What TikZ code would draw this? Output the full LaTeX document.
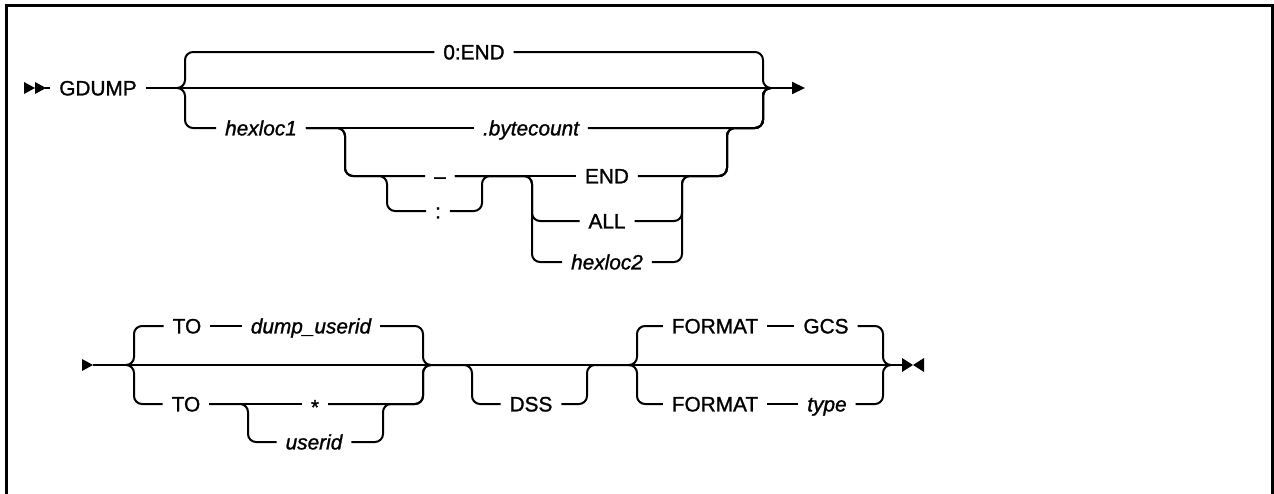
\documentclass[tikz,border=0pt]{standalone}
\usepackage{fontspec}
\newfontfamily\railfont{Liberation Sans}[FakeBold=1.2]
\usepackage{tikz}
\usetikzlibrary{arrows.meta}
\tikzset{
  % Keyword on a rail
  kw/.style={inner xsep=4.3pt,inner ysep=0pt,
    text height=7.4pt,text depth=0pt,
    font=\railfont\fontsize{10.4}{12}\selectfont},
  % Variable on a rail (italic)
  var/.style={kw,font=\railfont\fontsize{10.4}{12}\selectfont\itshape},
  % Rails
  rail/.style={line width=1pt,rounded corners=4pt},
  railarr/.style={line width=1pt,-{Triangle[length=6.5pt,width=6pt]}},
  frame/.style={line width=1.5pt},
}

\begin{document}
\begin{tikzpicture}[x=0.5pt,y=-0.5pt]
  \clip (0,0) rectangle (1274,493);
  \draw[frame] (6,510) -- (6,5.5) -- (1272,5.5) -- (1272,510);

  % First line: GDUMP and the address range
  \node[kw] (gdump) at (98,88) {GDUMP};
  \node[kw] (zeroend) at (474,52) {0:END};
  \node[var] (hexA) at (261,128) {hexloc1};
  \node[var] (bytes) at (531,128) {.bytecount};
  \node[kw] (dash) at (440,176) {\textendash};
  \node[kw] (colon) at (438,211) {:};
  \node[kw] (endkw) at (607,176) {END};
  \node[kw] (allkw) at (607,221) {ALL};
  \node[var] (hexB) at (607,262) {hexloc2};

  \coordinate (start1) at (45,88);
  \coordinate (lb1tip) at (177,88);
  \coordinate (lb1) at (185,88);
  \coordinate (rb1) at (763,88);
  \coordinate (rb1tip) at (771,88);
  \coordinate (end1) at (805,88);
  \coordinate (sp1) at (345,176);
  \coordinate (cl) at (387,211);
  \coordinate (mg2) at (482,176);
  \coordinate (sp3) at (532,176);
  \coordinate (alc) at (532,221);
  \coordinate (hxc) at (532,262);
  \coordinate (mg3) at (682,176);
  \coordinate (mg4) at (727,128);

  % start marks
  \fill (24,82) -- (35,88) -- (24,94) -- cycle;
  \fill (35,82) -- (46,88) -- (35,94) -- cycle;
  \draw[rail] (start1) -- (gdump.west);
  \draw[railarr] (gdump.east) -- (end1);

  % outer choice
  \draw[rail] (lb1tip) -- (lb1) |- (zeroend.west);
  \draw[rail] (lb1tip) -- (lb1) |- (hexA.west);
  \draw[rail] (zeroend.east) -| (rb1) -- (rb1tip);
  \draw[rail] (hexA.east) -- (bytes.west);
  \draw[rail] (bytes.east) -| (rb1) -- (rb1tip);

  % range end
  \draw[rail] (hexA.east) -| (sp1) -- (dash.west);
  \draw[rail] (hexA.east) -| (sp1) -| (cl) -- (colon.west);
  \draw[rail] (dash.east) -- (endkw.west);
  \draw[rail] (endkw.east) -| (mg4) -| (rb1) -- (rb1tip);
  \draw[rail] (colon.east) -| (mg2) -- (sp3);
  \draw[rail] (dash.east) -| (alc) -- (allkw.west);
  \draw[rail] (dash.east) -| (hxc) -- (hexB.west);
  \draw[rail] (allkw.east) -| (mg3) -| (mg4) -| (rb1) -- (rb1tip);
  \draw[rail] (hexB.east) -| (mg3) -| (mg4) -| (rb1) -- (rb1tip);

  % Second line: TO, DSS, FORMAT
  \node[kw] (toA) at (187,326) {TO};
  \node[var] (uidA) at (311,326) {dump\_userid};
  \node[kw] (toB) at (186,404) {TO};
  \node[kw] (star) at (315,404) {\raisebox{-1.5pt}{*}};
  \node[var] (uidB) at (314,442) {userid};
  \node[kw] (dss) at (531,404) {DSS};
  \node[kw] (fmtA) at (715,326) {FORMAT};
  \node[kw] (gcs) at (826,326) {GCS};
  \node[kw] (fmtB) at (715,404) {FORMAT};
  \node[var] (typev) at (827,404) {type};

  \coordinate (start2) at (93,365);
  \coordinate (lb2tip) at (126,365);
  \coordinate (lb2) at (134,365);
  \coordinate (rb2) at (423,365);
  \coordinate (rb2tip) at (430,365);
  \coordinate (sc) at (248,442);
  \coordinate (mc) at (383,404);
  \coordinate (dc) at (472,404);
  \coordinate (dm) at (587,365);
  \coordinate (lb3tip) at (630,365);
  \coordinate (lb3) at (637,365);
  \coordinate (rb3) at (883,365);
  \coordinate (rb3tip) at (890,365);
  \coordinate (end2) at (903,365);

  \fill (82,359) -- (93,365) -- (82,371) -- cycle;
  \draw[rail] (start2) -- (end2);
  % end marks
  \fill (902,358) -- (913,365) -- (902,372) -- cycle;
  \fill (924,358) -- (913,365) -- (924,372) -- cycle;

  % TO target
  \draw[rail] (lb2tip) -- (lb2) |- (toA.west);
  \draw[rail] (lb2tip) -- (lb2) |- (toB.west);
  \draw[rail] (toA.east) -- (uidA.west);
  \draw[rail] (uidA.east) -| (rb2) -- (rb2tip);
  \draw[rail] (toB.east) -- (star.west);
  \draw[rail] (star.east) -| (rb2) -- (rb2tip);
  \draw[rail] (toB.east) -| (sc) -- (uidB.west);
  \draw[rail] (uidB.east) -| (mc) -| (rb2) -- (rb2tip);

  % DSS
  \draw[rail] (rb2tip) -| (dc) -- (dss.west);
  \draw[rail] (dss.east) -| (dm) -- (lb3tip);

  % FORMAT
  \draw[rail] (lb3tip) -- (lb3) |- (fmtA.west);
  \draw[rail] (lb3tip) -- (lb3) |- (fmtB.west);
  \draw[rail] (fmtA.east) -- (gcs.west);
  \draw[rail] (fmtB.east) -- (typev.west);
  \draw[rail] (gcs.east) -| (rb3) -- (rb3tip);
  \draw[rail] (typev.east) -| (rb3) -- (rb3tip);
\end{tikzpicture}
\end{document}
